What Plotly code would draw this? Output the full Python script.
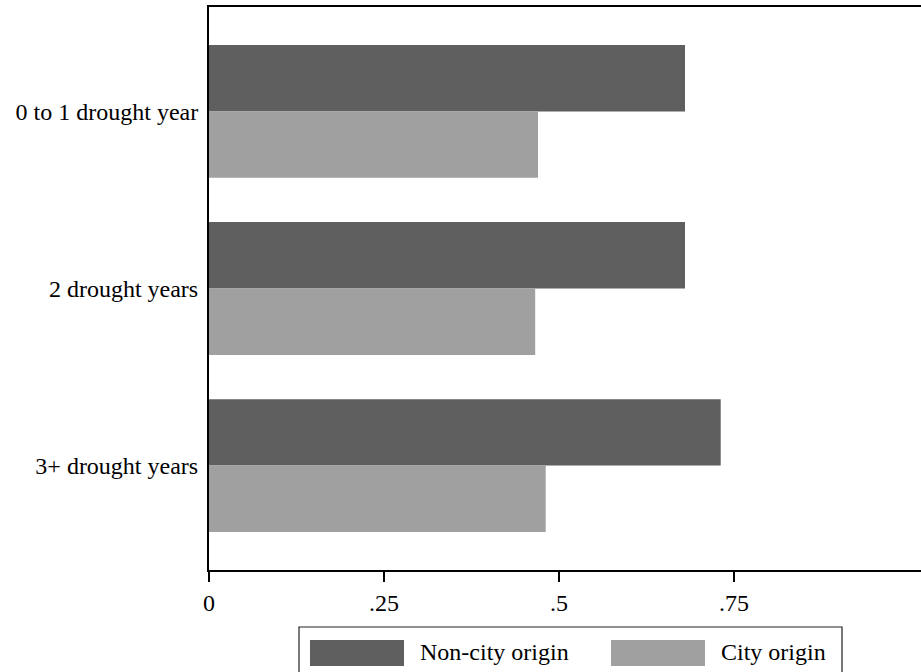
import plotly.graph_objects as go

categories = ["0 to 1 drought year", "2 drought years", "3+ drought years"]
non_city = [0.680, 0.680, 0.731]
city = [0.470, 0.466, 0.481]
x_tickvals = [0, 0.25, 0.5, 0.75]
x_ticktext = ["0", ".25", ".5", ".75"]
series_names = ["Non-city origin", "City origin"]

DARK = "#5f5f5f"
LIGHT = "#a0a0a0"
FONT = "Liberation Serif"

fig = go.Figure()
fig.add_trace(go.Bar(y=categories, x=non_city, orientation="h", name=series_names[0],
                     marker=dict(color=DARK, line=dict(width=0)), showlegend=False))
fig.add_trace(go.Bar(y=categories, x=city, orientation="h", name=series_names[1],
                     marker=dict(color=LIGHT, line=dict(width=0)), showlegend=False))

W, H = 926, 672
L, R, T, B = 209, 0, 7, 102
pw, ph = W - L - R, H - T - B

def px(x):
    return (x - L) / pw

def py(y):
    return (H - B - y) / ph

shapes = [
    dict(type="rect", xref="paper", yref="paper", x0=px(299), x1=px(842), y0=py(627), y1=py(690),
         line=dict(color="#222222", width=1.2), fillcolor="white", layer="above"),
    dict(type="rect", xref="paper", yref="paper", x0=px(310), x1=px(404), y0=py(640), y1=py(666),
         line=dict(width=0), fillcolor=DARK, layer="above"),
    dict(type="rect", xref="paper", yref="paper", x0=px(611), x1=px(705), y0=py(640), y1=py(666),
         line=dict(width=0), fillcolor=LIGHT, layer="above"),
]
annotations = [
    dict(xref="paper", yref="paper", x=px(418), y=py(652), text=series_names[0], showarrow=False,
         xanchor="left", yanchor="middle", font=dict(family=FONT, size=24, color="black")),
    dict(xref="paper", yref="paper", x=px(719), y=py(652), text=series_names[1], showarrow=False,
         xanchor="left", yanchor="middle", font=dict(family=FONT, size=24, color="black")),
]

fig.update_layout(
    width=W, height=H,
    margin=dict(l=L, r=R, t=T, b=B, pad=0),
    paper_bgcolor="white", plot_bgcolor="white",
    barmode="group", bargap=0.25, bargroupgap=0,
    font=dict(family=FONT, size=24, color="black"),
    shapes=shapes, annotations=annotations,
    showlegend=False,
)
fig.update_xaxes(range=[0, (W - L) / 700.0], tickvals=x_tickvals, ticktext=x_ticktext,
                 ticks="outside", ticklen=10, tickwidth=2, tickcolor="black",
                 showline=True, linecolor="black", linewidth=2, mirror=True,
                 showgrid=False, zeroline=False, tickfont=dict(family=FONT, size=24))
fig.update_yaxes(type="category", categoryorder="array", categoryarray=categories,
                 range=[2.59, -0.59], ticks="", showline=True, linecolor="black", linewidth=2,
                 showgrid=False, zeroline=False, ticklabelstandoff=4,
                 tickfont=dict(family=FONT, size=24))

fig.write_html("out.html", config={"displayModeBar": False},
               post_script="document.body.style.margin='0';document.body.style.overflow='hidden';")
